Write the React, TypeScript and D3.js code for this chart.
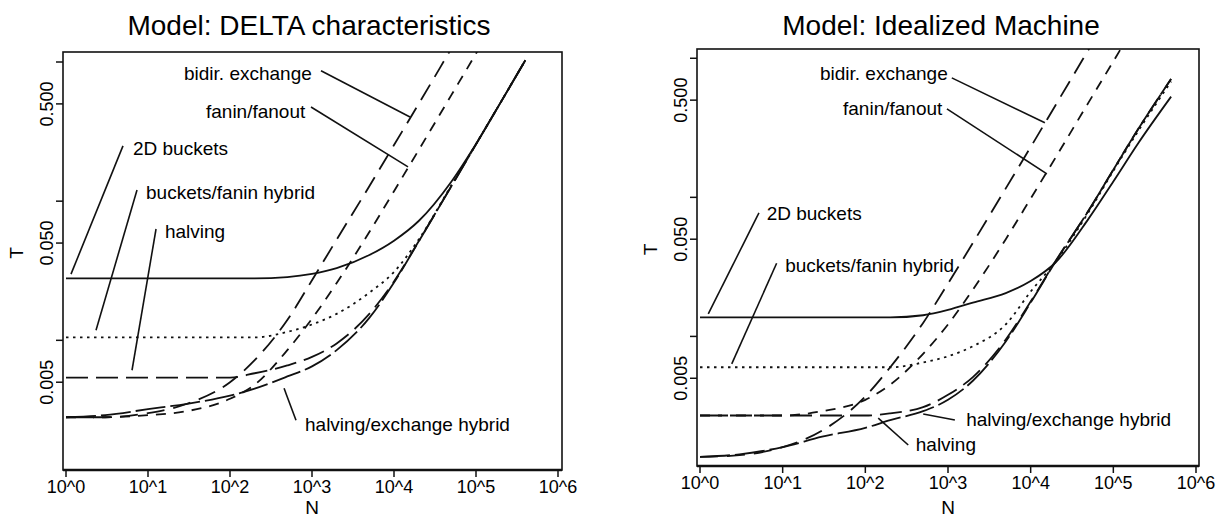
import React, { useEffect, useRef } from 'react';
import * as d3 from 'd3';

// N grid (processors) for each panel
const deltaN = [1, 3, 10, 30, 100, 200, 500, 1000, 2000, 5000, 10000, 20000, 50000, 100000, 200000, 400000];
const idealN = [1, 3, 10, 30, 100, 200, 500, 1000, 2000, 5000, 10000, 20000, 50000, 100000, 200000, 500000];

// Model: DELTA characteristics
const delta2DBuckets = [0.0279, 0.0279, 0.0279, 0.0279, 0.0279, 0.0279, 0.0285, 0.030, 0.033, 0.041, 0.052, 0.072, 0.138, 0.258, 0.513, 1.03];
const deltaBucketsFanin = [0.0105, 0.0105, 0.0105, 0.0105, 0.0105, 0.0105, 0.0115, 0.013, 0.0155, 0.022, 0.031, 0.053, 0.13, 0.257, 0.513, 1.03];
const deltaHalving = [0.0054, 0.0054, 0.0054, 0.0054, 0.0054, 0.0058, 0.0066, 0.0076, 0.0095, 0.0155, 0.0265, 0.0515, 0.128, 0.256, 0.513, 1.03];
const deltaHalvExch = [0.0028, 0.0029, 0.0032, 0.0035, 0.0040, 0.0045, 0.0055, 0.0065, 0.0085, 0.0145, 0.026, 0.0513, 0.128, 0.256, 0.513, 1.03];
const deltaBidir = [0.0028, 0.0028, 0.003, 0.0035, 0.005, 0.0072, 0.014, 0.027, 0.053, 0.128, 0.253, 0.5, 1.25, 2.5, 5, 10];
const deltaFanin = [0.0028, 0.0028, 0.0029, 0.0031, 0.0038, 0.0048, 0.0085, 0.0143, 0.0258, 0.06, 0.118, 0.233, 0.578, 1.15, 2.3, 4.6];

// Model: Idealized Machine
const ideal2DBuckets = [0.0137, 0.0137, 0.0137, 0.0137, 0.0137, 0.0137, 0.0142, 0.0155, 0.0175, 0.0205, 0.025, 0.034, 0.07, 0.13, 0.245, 0.53];
const idealBucketsFanin = [0.006, 0.006, 0.006, 0.006, 0.006, 0.006, 0.0065, 0.0072, 0.0085, 0.0122, 0.021, 0.0345, 0.078, 0.155, 0.3, 0.68];
const idealHalving = [0.0027, 0.0027, 0.0027, 0.0027, 0.0027, 0.0028, 0.0031, 0.0038, 0.0051, 0.0095, 0.0178, 0.0348, 0.08, 0.158, 0.31, 0.71];
const idealHalvExch = [0.00136, 0.00142, 0.0016, 0.0019, 0.0022, 0.0025, 0.0029, 0.0035, 0.0048, 0.0092, 0.0175, 0.0345, 0.08, 0.158, 0.31, 0.71];
const idealBidir = [0.00136, 0.0014, 0.0016, 0.0021, 0.0037, 0.006, 0.0125, 0.024, 0.047, 0.116, 0.23, 0.46, 1.15, 2.3, 4.6, 11.5];
const idealFanin = [0.0027, 0.0027, 0.0027, 0.0029, 0.0035, 0.0045, 0.0075, 0.0122, 0.0217, 0.05, 0.098, 0.193, 0.48, 0.95, 1.9, 4.75];

// axes
const xTicks = [1, 10, 100, 1000, 10000, 100000, 1000000];
const xTickLabels = ['10^0', '10^1', '10^2', '10^3', '10^4', '10^5', '10^6'];
const yTicks = [1, 0.5, 0.1, 0.05, 0.01, 0.005];
const yTickLabels = ['', '0.500', '', '0.050', '', '0.005'];

// curve labels: [text, log10 N, log10 T] of the text, then pointer from / to (log10 N, log10 T)
const deltaNotes = [
  ['bidir. exchange', 1.439, -0.128, 3.11, -0.063, 4.195, -0.395],
  ['fanin/fanout', 1.707, -0.402, 2.988, -0.323, 4.171, -0.754],
  ['2D buckets', 0.817, -0.668, 0.695, -0.603, 0.061, -1.524],
  ['buckets/fanin hybrid', 0.976, -0.984, 0.866, -0.92, 0.366, -1.927],
  ['halving', 1.207, -1.265, 1.098, -1.2, 0.805, -2.215],
  ['halving/exchange hybrid', 2.915, -2.654, 2.805, -2.574, 2.659, -2.344],
];
const idealNotes = [
  ['bidir. exchange', 1.451, -0.155, 3.046, -0.141, 4.172, -0.464],
  ['fanin/fanout', 1.73, -0.41, 2.987, -0.364, 4.196, -0.831],
  ['2D buckets', 0.806, -1.163, 0.713, -1.112, 0.1, -1.838],
  ['buckets/fanin hybrid', 1.03, -1.535, 0.927, -1.474, 0.384, -2.198],
  ['halving/exchange hybrid', 3.22, -2.647, 3.083, -2.601, 2.7, -2.558],
  ['halving', 2.61, -2.824, 2.519, -2.781, 2.156, -2.587],
];

const FONT = "'Liberation Sans', Arial, Helvetica, sans-serif";

const dashFor = {
  twoD: null,
  bucketsFanin: '2.5,4.5',
  halving: '22,8',
  halvExch: '30,5',
  bidir: '18,9',
  fanin: '10,8',
};

const Panel = ({ id, title, n, curves, notes, frame }) => {
  const ref = useRef(null);

  useEffect(() => {
    const g = d3.select(ref.current);
    g.selectAll('*').remove();

    const x = d3.scaleLog().domain([1, 1e6]).range([frame.x0, frame.x1]);
    const y = d3.scaleLog().domain([frame.tLow, frame.tHigh]).range([frame.bottom, frame.top]);
    const p10 = v => Math.pow(10, v);

    // clip for curves
    g.append('clipPath')
      .attr('id', `clip-${id}`)
      .append('rect')
      .attr('x', frame.left)
      .attr('y', frame.top)
      .attr('width', frame.right - frame.left)
      .attr('height', frame.bottom - frame.top);

    // title
    g.append('text')
      .attr('x', frame.titleX)
      .attr('y', 35)
      .attr('text-anchor', 'middle')
      .attr('font-size', 28)
      .text(title);

    // curves
    const line = d3.line()
      .x(d => x(d[0]))
      .y(d => y(d[1]))
      .curve(d3.curveMonotoneX);

    const curveG = g.append('g').attr('clip-path', `url(#clip-${id})`);
    curves.forEach(c => {
      curveG.append('path')
        .datum(n.map((v, i) => [v, c.values[i]]))
        .attr('fill', 'none')
        .attr('stroke', '#111')
        .attr('stroke-width', 1.8)
        .attr('stroke-dasharray', c.dash)
        .attr('d', line);
    });

    // frame
    g.append('rect')
      .attr('x', frame.left)
      .attr('y', frame.top)
      .attr('width', frame.right - frame.left)
      .attr('height', frame.bottom - frame.top)
      .attr('fill', 'none')
      .attr('stroke', '#111')
      .attr('stroke-width', 1.6);
    g.append('line')
      .attr('x1', frame.left)
      .attr('x2', frame.right)
      .attr('y1', frame.bottom)
      .attr('y2', frame.bottom)
      .attr('stroke', '#111')
      .attr('stroke-width', 2.6);

    // x axis
    const xa = g.append('g');
    xa.selectAll('line')
      .data(xTicks)
      .enter()
      .append('line')
      .attr('x1', d => x(d))
      .attr('x2', d => x(d))
      .attr('y1', frame.bottom)
      .attr('y2', frame.bottom + 7)
      .attr('stroke', '#111')
      .attr('stroke-width', 1.5);
    xa.selectAll('text')
      .data(xTicks)
      .enter()
      .append('text')
      .attr('x', d => x(d))
      .attr('y', frame.bottom + 23)
      .attr('text-anchor', 'middle')
      .attr('font-size', 18)
      .text((d, i) => xTickLabels[i]);
    g.append('text')
      .attr('x', (frame.x0 + frame.x1) / 2)
      .attr('y', 514)
      .attr('text-anchor', 'middle')
      .attr('font-size', 19)
      .text('N');

    // y axis
    const ya = g.append('g');
    ya.selectAll('line')
      .data(yTicks)
      .enter()
      .append('line')
      .attr('x1', frame.left - 7)
      .attr('x2', frame.left)
      .attr('y1', d => y(d))
      .attr('y2', d => y(d))
      .attr('stroke', '#111')
      .attr('stroke-width', 1.5);
    ya.selectAll('text')
      .data(yTicks)
      .enter()
      .append('text')
      .attr('transform', d => `translate(${frame.left - 10},${y(d)}) rotate(-90)`)
      .attr('text-anchor', 'middle')
      .attr('font-size', 18)
      .text((d, i) => yTickLabels[i]);
    g.append('text')
      .attr('transform', `translate(${frame.left - 40},${(frame.top + frame.bottom) / 2 - 8}) rotate(-90)`)
      .attr('text-anchor', 'middle')
      .attr('font-size', 19)
      .text('T');

    // curve labels with pointers
    notes.forEach(([label, tn, tt, fn, ft, en, et]) => {
      g.append('line')
        .attr('x1', x(p10(fn)))
        .attr('y1', y(p10(ft)))
        .attr('x2', x(p10(en)))
        .attr('y2', y(p10(et)))
        .attr('stroke', '#111')
        .attr('stroke-width', 1.6);
      g.append('text')
        .attr('x', x(p10(tn)))
        .attr('y', y(p10(tt)))
        .attr('font-size', 19)
        .text(label);
    });
  }, []);

  return <g ref={ref} />;
};

export default function App() {
  const deltaFrame = { left: 63, right: 562, top: 52, bottom: 470, x0: 66, x1: 558, tLow: 0.00117, tHigh: 1.18, titleX: 309 };
  const idealFrame = { left: 697, right: 1199, top: 49, bottom: 466, x0: 700, x1: 1196, tLow: 0.00117, tHigh: 1.166, titleX: 941 };

  const deltaCurves = [
    { values: delta2DBuckets, dash: dashFor.twoD },
    { values: deltaBucketsFanin, dash: dashFor.bucketsFanin },
    { values: deltaHalving, dash: dashFor.halving },
    { values: deltaHalvExch, dash: dashFor.halvExch },
    { values: deltaBidir, dash: dashFor.bidir },
    { values: deltaFanin, dash: dashFor.fanin },
  ];
  const idealCurves = [
    { values: ideal2DBuckets, dash: dashFor.twoD },
    { values: idealBucketsFanin, dash: dashFor.bucketsFanin },
    { values: idealHalving, dash: dashFor.halving },
    { values: idealHalvExch, dash: dashFor.halvExch },
    { values: idealBidir, dash: dashFor.bidir },
    { values: idealFanin, dash: dashFor.fanin },
  ];

  return (
    <svg
      width={1220}
      height={520}
      style={{ position: 'absolute', left: 0, top: 0, background: '#fff', fontFamily: FONT }}
    >
      <rect x={0} y={0} width={1220} height={520} fill="#fff" />
      <Panel id="delta" title="Model: DELTA characteristics" n={deltaN} curves={deltaCurves} notes={deltaNotes} frame={deltaFrame} />
      <Panel id="ideal" title="Model: Idealized Machine" n={idealN} curves={idealCurves} notes={idealNotes} frame={idealFrame} />
    </svg>
  );
}
